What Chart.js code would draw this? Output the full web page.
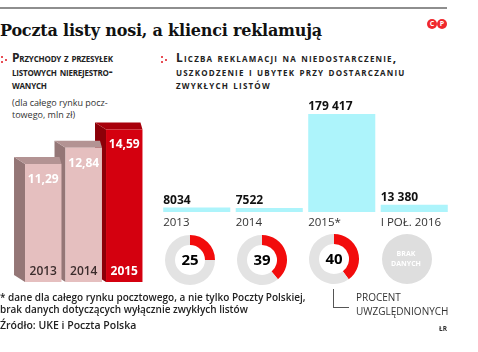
<!DOCTYPE html>
<html>
<head>
<meta charset="utf-8">
<script src="https://cdn.jsdelivr.net/npm/chart.js@4.4.1/dist/chart.umd.min.js"></script>
<style>
  html, body { margin: 0; padding: 0; background: #fff; }
  #wrap { position: relative; width: 478px; height: 352px; overflow: hidden; font-family: "Open Sans", sans-serif; color: #222; }
  .abs { position: absolute; white-space: nowrap; }
  #rule { left: 0; top: 7px; width: 447px; height: 2px; background: #8e8e8e; }
  #title { left: 0; top: 18px; font-family: "DejaVu Serif", serif; font-weight: bold; font-size: 16px; letter-spacing: -0.2px; line-height: 26px; color: #111; }
  .logo { top: 19px; width: 10px; height: 10px; border-radius: 50%; background: #f0282d; color: #fff; font: bold 7px/10px "Open Sans", sans-serif; text-align: center; }
  .head { font-weight: bold; font-size: 12px; line-height: 13.5px; font-variant: small-caps; color: #222; }
  .dots { position: absolute; width: 8px; height: 9px; }
  .dots i { position: absolute; width: 2px; height: 2px; background: #e0141e; border-radius: 1px; }
  #note { left: 12px; top: 97px; font-size: 9px; line-height: 11.5px; color: #333; }
  #foot { left: 0; top: 291px; font-size: 10px; font-weight: 600; line-height: 12px; color: #222; }
  #src { left: 0; top: 319px; font-size: 10.5px; font-weight: 600; line-height: 12px; color: #222; }
  #pct { left: 356px; top: 290px; font-size: 10px; line-height: 14px; color: #333; }
  #lead { left: 333px; top: 289px; width: 15px; height: 18px; border-left: 1px solid #555; border-bottom: 1px solid #555; }
  #lr { left: 439px; top: 324px; font-size: 6.5px; font-weight: bold; color: #333; }
  canvas { position: absolute; }
</style>
</head>
<body>
<div id="wrap">
  <div class="abs" id="rule"></div>
  <div class="abs" id="title">Poczta listy nosi, a klienci reklamują</div>
  <div class="abs logo" style="left:427px">C</div>
  <div class="abs logo" style="left:437px">P</div>

  <div class="dots" style="left:1px;top:55px"><i style="left:0;top:1px"></i><i style="left:0;top:6px"></i><i style="left:4px;top:3.5px"></i></div>
  <div class="abs head" style="left:12px;top:51px;letter-spacing:-0.2px">Przychody z przesyłek<br>listowych nierejestro-<br>wanych</div>
  <div class="dots" style="left:161px;top:55px"><i style="left:0;top:1px"></i><i style="left:0;top:6px"></i><i style="left:4px;top:3.5px"></i></div>
  <div class="abs head" style="left:176px;top:51px;letter-spacing:1.2px">Liczba reklamacji na niedostarczenie,<br>uszkodzenie i ubytek przy dostarczaniu<br>zwykłych listów</div>

  <div class="abs" id="note">(dla całego rynku pocz-<br>towego, mln zł)</div>

  <canvas id="revenueChart" width="160" height="195" style="left:0;top:97px"></canvas>
  <canvas id="complaintChart" width="328" height="140" style="left:150px;top:100px"></canvas>

  <canvas id="donut0" width="54" height="54" style="left:163px;top:233px"></canvas>
  <canvas id="donut1" width="54" height="54" style="left:235px;top:233px"></canvas>
  <canvas id="donut2" width="54" height="54" style="left:307px;top:232px"></canvas>
  <canvas id="donut3" width="54" height="54" style="left:380px;top:232px"></canvas>

  <div class="abs" id="lead"></div>
  <div class="abs" id="pct">PROCENT<br>UWZGLĘDNIONYCH</div>
  <div class="abs" id="foot">* dane dla całego rynku pocztowego, a nie tylko Poczty Polskiej,<br>brak danych dotyczących wyłącznie zwykłych listów</div>
  <div class="abs" id="src">Źródło: UKE i Poczta Polska</div>
  <div class="abs" id="lr">ŁR</div>
</div>

<script>
// przychody (mln zl)
const revenueYears = ['2013', '2014', '2015'];
const revenueValues = [11.29, 12.84, 14.59];

// reklamacje
const complaintPeriods = ['2013', '2014', '2015*', 'I POŁ. 2016'];
const complaintValues = [8034, 7522, 179417, 13380];

// procent uwzglednionych (null = brak danych)
const consideredPct = [25, 39, 40, null];

const plNum = new Intl.NumberFormat('pl-PL');
const plDec = new Intl.NumberFormat('pl-PL', { minimumFractionDigits: 2, maximumFractionDigits: 2 });

const frontColors = ['#e5bfbf', '#e5bfbf', '#d4000f'];
const topColors = ['#b39393', '#b39393', '#a8000b'];
const sideColors = ['#947676', '#947676', '#8c0008'];
const yearColors = ['#3b2c2c', '#3b2c2c', '#ffffff'];
const DX = -11, DY = -7;

const box3d = {
    id: 'box3d',
    beforeDatasetsDraw(chart) {
        const ctx = chart.ctx;
        const bars = chart.getDatasetMeta(0).data;
        for (let i = bars.length - 1; i >= 0; i--) {
            const b = bars[i];
            const l = b.x - b.width / 2, r = b.x + b.width / 2;
            ctx.fillStyle = sideColors[i];
            ctx.beginPath();
            ctx.moveTo(l, b.y);
            ctx.lineTo(l + DX, b.y + DY);
            ctx.lineTo(l + DX, b.base + DY);
            ctx.lineTo(l, b.base);
            ctx.closePath();
            ctx.fill();
            ctx.fillStyle = topColors[i];
            ctx.beginPath();
            ctx.moveTo(l, b.y);
            ctx.lineTo(r, b.y);
            ctx.lineTo(r - 2, b.y + DY);
            ctx.lineTo(l + DX, b.y + DY);
            ctx.closePath();
            ctx.fill();
        }
    },
    afterDatasetsDraw(chart) {
        const ctx = chart.ctx;
        const bars = chart.getDatasetMeta(0).data;
        ctx.save();
        ctx.textAlign = 'center';
        ctx.textBaseline = 'alphabetic';
        bars.forEach((b, i) => {
            ctx.fillStyle = '#fff';
            ctx.font = 'bold 12px "Open Sans"';
            ctx.fillText(plDec.format(revenueValues[i]), b.x, b.y + 19);
            ctx.fillStyle = yearColors[i];
            ctx.font = (i === 2 ? 'bold ' : '600 ') + '12px "Open Sans"';
            ctx.fillText(revenueYears[i], b.x, b.base - 7);
        });
        ctx.restore();
    }
};

new Chart(document.getElementById('revenueChart'), {
    type: 'bar',
    data: {
        labels: revenueYears,
        datasets: [{
            data: revenueValues,
            backgroundColor: frontColors,
            borderWidth: 0,
            barPercentage: 0.9,
            categoryPercentage: 1.0,
        }],
    },
    options: {
        responsive: false,
        animation: false,
        events: [],
        layout: { padding: { left: 23, right: 15.5, top: 2, bottom: 10 } },
        plugins: { legend: { display: false }, tooltip: { enabled: false } },
        scales: {
            x: { display: false },
            y: { display: false, min: 0, max: 17.5 },
        },
    },
    plugins: [box3d],
});

const complaintLabels = {
    id: 'complaintLabels',
    afterDatasetsDraw(chart) {
        const ctx = chart.ctx;
        const bars = chart.getDatasetMeta(0).data;
        ctx.save();
        ctx.textAlign = 'left';
        bars.forEach((b, i) => {
            const l = b.x - b.width / 2;
            ctx.fillStyle = '#111';
            ctx.font = 'bold 12px "Open Sans"';
            ctx.fillText(plNum.format(complaintValues[i]), l, b.y - 4);
            ctx.fillStyle = '#333';
            ctx.font = '11.5px "Open Sans"';
            ctx.fillText(complaintPeriods[i], l, b.base + 14);
        });
        ctx.restore();
    }
};

new Chart(document.getElementById('complaintChart'), {
    type: 'bar',
    data: {
        labels: complaintPeriods,
        datasets: [{
            data: complaintValues,
            backgroundColor: '#adf4fb',
            borderWidth: 0,
            barPercentage: 0.925,
            categoryPercentage: 1.0,
        }],
    },
    options: {
        responsive: false,
        animation: false,
        events: [],
        layout: { padding: { left: 10.5, right: 27.5, top: 14, bottom: 28 } },
        plugins: { legend: { display: false }, tooltip: { enabled: false } },
        scales: {
            x: { display: false },
            y: { display: false, min: 0, max: 179417 },
        },
    },
    plugins: [complaintLabels],
});

const donutCenter = {
    id: 'donutCenter',
    afterDraw(chart) {
        const ctx = chart.ctx;
        const arc = chart.getDatasetMeta(0).data[0];
        const pct = chart.options.plugins.donutCenter.value;
        ctx.save();
        ctx.textAlign = 'center';
        ctx.textBaseline = 'middle';
        if (pct === null) {
            ctx.fillStyle = '#fff';
            ctx.font = 'bold 7px "Open Sans"';
            ctx.fillText('BRAK', arc.x - 1, arc.y - 5);
            ctx.fillText('DANYCH', arc.x - 1, arc.y + 5);
        } else {
            ctx.fillStyle = '#000';
            ctx.font = 'bold 15px "Open Sans"';
            ctx.fillText(String(pct), arc.x, arc.y + 1);
        }
        ctx.restore();
    }
};

consideredPct.forEach((pct, i) => {
    const noData = pct === null;
    new Chart(document.getElementById('donut' + i), {
        type: 'doughnut',
        data: {
            labels: noData ? ['brak danych'] : ['uwzględnione', 'pozostałe'],
            datasets: [{
                data: noData ? [1] : [pct, 100 - pct],
                backgroundColor: noData ? ['#dedede'] : ['#f20c0c', '#e3e3e3'],
                borderWidth: 0,
            }],
        },
        options: {
            responsive: false,
            animation: false,
            events: [],
            cutout: noData ? 0 : '60%',
            layout: { padding: 2 },
            plugins: {
                legend: { display: false },
                tooltip: { enabled: false },
                donutCenter: { value: pct },
            },
        },
        plugins: [donutCenter],
    });
});
</script>
</body>
</html>
